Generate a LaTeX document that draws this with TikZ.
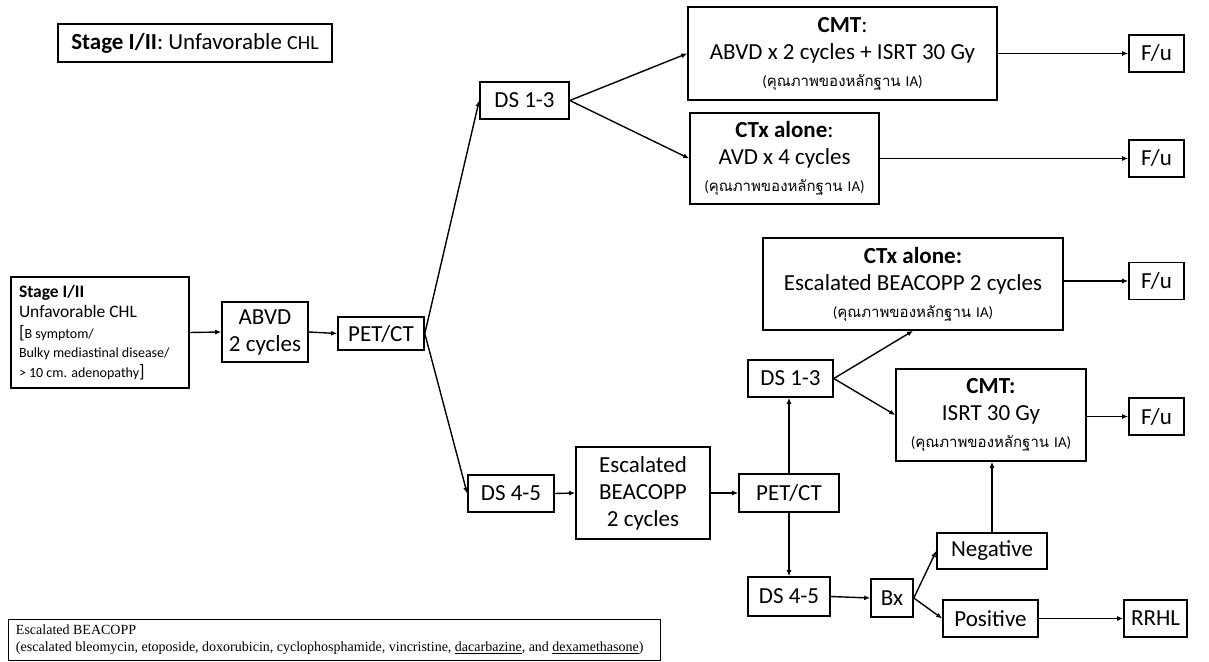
\documentclass[tikz,border=0pt]{standalone}
\usepackage{fontspec}
\setmainfont{Carlito}
\newfontfamily\thaifont[Script=Thai]{Loma}
\newfontfamily\footfont{Liberation Serif}
\usetikzlibrary{arrows.meta}

\newcommand{\evid}{{\fontsize{15}{18}\selectfont(\thaifont คุณภาพของหลักฐาน\ \normalfont IA)}}

\begin{document}
\begin{tikzpicture}
    [
        x=1pt, y=-1pt,
        box/.style={draw, line width=1.6pt, inner sep=0pt, align=center, font=\fontsize{23}{27}\selectfont},
        arr/.style={-{Latex[length=6pt,width=5pt]}, line width=1.4pt}
    ]
    \useasboundingbox (0,0) rectangle (1209,661);

    \node [box, minimum width=274pt, minimum height=38pt] (title) at (195,43) {\textbf{Stage I/II}: Unfavorable {\fontsize{20}{24}\selectfont CHL}};

    \node [box, minimum height=111pt, text width=162pt, inner xsep=8pt, align=flush left, font=\fontsize{17.5}{20}\selectfont] (stage) at (100,332.5)
        {\textbf{Stage I/II}\\Unfavorable CHL\\[2pt]
         {\fontsize{14}{19}\selectfont{\fontsize{18}{19}\selectfont[}B symptom/\\Bulky mediastinal disease/\\{>} 10 cm. adenopathy{\fontsize{18}{19}\selectfont]}}};
    \node [box, minimum width=86pt, minimum height=60pt] (abvd) at (265,332) {ABVD\\2 cycles};
    \node [box, minimum width=86pt, minimum height=33pt] (pet1) at (381,333.5) {PET/CT};

    \node [box, minimum width=89pt, minimum height=37pt] (ds13a) at (524.5,100.5) {DS 1-3};
    \node [box, minimum width=86pt, minimum height=37pt] (ds45a) at (511,493.5) {DS 4-5};

    \node [box, minimum width=309pt, minimum height=93pt] (cmt1) at (842.5,53.5) {\textbf{CMT}:\\ABVD x 2 cycles + ISRT 30 Gy\\\evid};
    \node [box, minimum width=189pt, minimum height=91pt] (ctx1) at (784.5,158.5) {\textbf{CTx alone}:\\AVD x 4 cycles\\\evid};
    \node [box, minimum width=300pt, minimum height=92pt] (ctx2) at (913,284) {\textbf{CTx alone:}\\Escalated BEACOPP 2 cycles\\\evid};
    \node [box, minimum width=190pt, minimum height=92pt] (cmt2) at (991,415) {\textbf{CMT:}\\ISRT 30 Gy\\\evid};

    \node [box, minimum width=55pt, minimum height=37pt] (fu1) at (1156.5,53.5) {F/u};
    \node [box, minimum width=55pt, minimum height=37pt] (fu2) at (1156.5,158.5) {F/u};
    \node [box, minimum width=55pt, minimum height=37pt] (fu3) at (1156.5,281) {F/u};
    \node [box, minimum width=55pt, minimum height=37pt] (fu4) at (1156.5,416.5) {F/u};

    \node [box, minimum width=134pt, minimum height=92pt] (esc) at (643,493) {Escalated\\BEACOPP\\2 cycles};
    \node [box, minimum width=100pt, minimum height=38pt] (pet2) at (789,493) {PET/CT};
    \node [box, minimum width=85pt, minimum height=37pt] (ds13b) at (790.5,378.5) {DS 1-3};
    \node [box, minimum width=82pt, minimum height=39pt] (ds45b) at (789,596.5) {DS 4-5};
    \node [box, minimum width=42pt, minimum height=38pt] (bx) at (892,598) {Bx};
    \node [box, minimum width=110pt, minimum height=36pt] (neg) at (992,551) {Negative};
    \node [box, minimum width=95pt, minimum height=37pt] (pos) at (990.5,618.5) {Positive};
    \node [box, minimum width=63pt, minimum height=37pt] (rrhl) at (1155.5,618.5) {RRHL};

    % footnote
    \node [draw, line width=0.8pt, minimum width=652pt, minimum height=41pt, inner xsep=8pt, text width=636pt, align=flush left,
           font=\footfont\fontsize{14}{17}\selectfont] (note) at (334,640)
        {Escalated BEACOPP\\(escalated bleomycin, etoposide, doxorubicin, cyclophosphamide, vincristine, \underline{dacarbazine}, and \underline{dexamethasone})};

    \draw [arr] (stage.east) -- (abvd.west);
    \draw [arr] (abvd.east) -- (pet1.west);
    \draw [arr] (pet1.east) -- (ds13a.west);
    \draw [arr] (pet1.east) -- (ds45a.west);
    \draw [arr] (ds13a.east) -- (cmt1.west);
    \draw [arr] (ds13a.east) -- (ctx1.west);
    \draw [arr] (cmt1.east) -- (fu1.west);
    \draw [arr] (ctx1.east) -- (fu2.west);
    \draw [arr] (fu3.west -| ctx2.east) -- (fu3.west);
    \draw [arr] (fu4.west -| cmt2.east) -- (fu4.west);
    \draw [arr] (ds45a.east) -- (esc.west);
    \draw [arr] (esc.east) -- (pet2.west);
    \draw [arr] (pet2.north) -- (pet2.north |- ds13b.south);
    \draw [arr] (pet2.south) -- (pet2.south |- ds45b.north);
    \draw [arr] (ds13b.east) -- (ctx2.south);
    \draw [arr] (ds13b.east) -- (cmt2.west);
    \draw [arr] (ds45b.east) -- (bx.west);
    \draw [arr] (bx.east) -- (neg.west);
    \draw [arr] (bx.east) -- (pos.west);
    \draw [arr] (neg.north) -- (neg.north |- cmt2.south);
    \draw [arr] (pos.east) -- (rrhl.west);
\end{tikzpicture}
\end{document}
